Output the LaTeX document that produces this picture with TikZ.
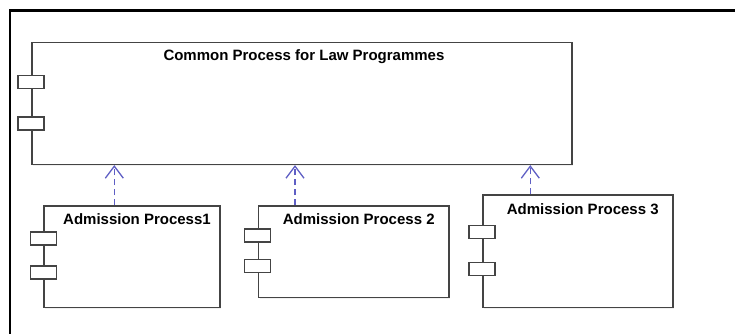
\documentclass[tikz,border=0pt]{standalone}
\usepackage{fontspec}
\setmainfont{Liberation Sans}
\usetikzlibrary{arrows.meta,shadows}
\definecolor{boxline}{HTML}{444444}
\definecolor{deparrow}{HTML}{5F5FC4}
\tikzset{
  frame/.style={draw=black, line width=2.8pt},
  compbox/.style={draw=boxline, fill=white, line width=1.6pt, rectangle,
    inner sep=0pt, anchor=north west,
    drop shadow={opacity=0.12, shadow xshift=1.3pt, shadow yshift=-1.3pt}},
  portbox/.style={draw=boxline, fill=white, line width=1.4pt, rectangle,
    inner sep=0pt, minimum width=26pt, minimum height=13pt},
  title/.style={font=\bfseries\fontsize{15}{18}\selectfont, inner sep=0pt, anchor=base west},
  dep/.style={draw=deparrow, line width=1.3pt, dash pattern=on 6pt off 4pt,
    -{Straight Barb[length=12pt,width=18pt,line width=1.3pt]}}
}
\begin{document}
\begin{tikzpicture}[x=1pt,y=-1pt]
\useasboundingbox (0,0) rectangle (735,333);

% outer frame (left and top edges only)
\coordinate (fbl) at (10,340);
\coordinate (ftl) at (10,10.6);
\coordinate (ftr) at (740,10.6);
\draw[frame] (fbl) -- (ftl) -- (ftr);

% common component
\node[compbox, minimum width=540pt, minimum height=122pt] (main) at (31,41.5) {};
\node[portbox] (mp1) at (31,82) {};
\node[portbox] (mp2) at (31,123.5) {};
\node[title] (mt) at (163.3,60.5) {Common Process for Law Programmes};

% admission process 1
\node[compbox, minimum width=175.7pt, minimum height=101.5pt] (b1) at (43.3,205) {};
\node[portbox] (b1p1) at (43.3,238.3) {};
\node[portbox] (b1p2) at (43.3,272.5) {};
\node[title] (b1t) at (63,224) {Admission Process1};

% admission process 2
\node[compbox, minimum width=190.6pt, minimum height=91.7pt] (b2) at (257.7,205) {};
\node[portbox] (b2p1) at (257.7,235.3) {};
\node[portbox] (b2p2) at (257.7,266) {};
\node[title] (b2t) at (282.7,224) {Admission Process 2};

% admission process 3
\node[compbox, minimum width=190pt, minimum height=112.4pt] (b3) at (482,194.3) {};
\node[portbox] (b3p1) at (482,232) {};
\node[portbox] (b3p2) at (482,269) {};
\node[title] (b3t) at (506.7,214) {Admission Process 3};

% dependencies
\coordinate (d1) at (114.3,0);
\coordinate (d2) at (295,0);
\coordinate (d3) at (530.3,0);
\draw[dep] (b1.north -| d1) -- (main.south -| d1);
\draw[dep] (b2.north -| d2) -- (main.south -| d2);
\draw[dep] (b3.north -| d3) -- (main.south -| d3);
\end{tikzpicture}
\end{document}
